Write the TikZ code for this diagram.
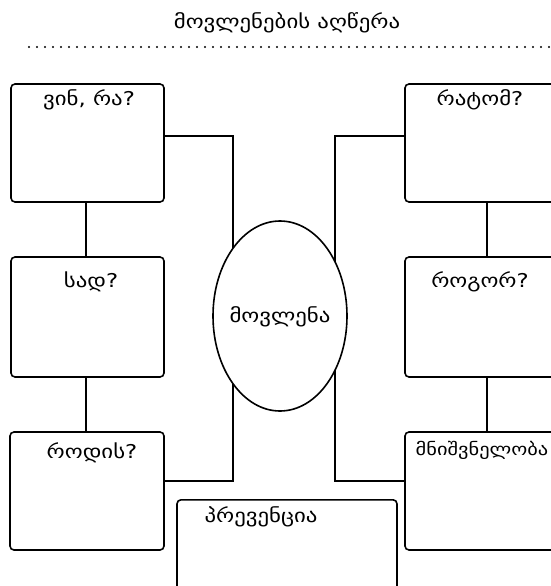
\documentclass[tikz,border=0pt]{standalone}
\usepackage{fontspec}
\setmainfont{DejaVu Sans}
\newfontfamily\geo[FakeStretch=1.2]{DejaVu Sans}
\usetikzlibrary{shapes.geometric}
\begin{document}
\begin{tikzpicture}[x=1pt,y=-1pt,
  lw/.style={line width=1.6pt},
  box/.style={lw,draw=black,fill=white,rounded corners=4pt,inner sep=0pt},
  conn/.style={lw,draw=black},
  lbl/.style={anchor=base,inner sep=0pt,font=\geo\fontsize{19}{22}\selectfont},
]
\useasboundingbox (0,0) rectangle (550,586);
% title
\node[lbl] (title) at (287,29) {მოვლენების აღწერა};
\draw[line width=2.4pt,line cap=round,dash pattern=on 0pt off 8pt] (29,47) -- (552,47);
% coordinates for connectors
\coordinate (lt) at (233,136);
\coordinate (lb) at (233,481);
\coordinate (rt) at (335,136);
\coordinate (rb) at (335,481);
% boxes
\node[box,minimum width=153pt,minimum height=118pt] (b1) at (87.5,143) {};
\node[box,minimum width=153pt,minimum height=120pt] (b2) at (87.5,317) {};
\node[box,minimum width=154pt,minimum height=118pt] (b3) at (87,491) {};
\node[box,minimum width=153pt,minimum height=118pt] (r1) at (481.5,143) {};
\node[box,minimum width=153pt,minimum height=120pt] (r2) at (481.5,317) {};
\node[box,minimum width=153pt,minimum height=118pt] (r3) at (481.5,491) {};
\node[box,minimum width=220pt,minimum height=120pt,anchor=north] (c) at (287,499) {};
% connectors
\draw[conn] (b1.east |- lt) -- (lt) -- (lb) -- (b3.east |- lb);
\draw[conn] (r1.west |- rt) -- (rt) -- (rb) -- (r3.west |- rb);
\draw[conn] (b1.south -| 86,0) -- (b2.north -| 86,0);
\draw[conn] (b2.south -| 86,0) -- (b3.north -| 86,0);
\draw[conn] (r1.south -| 487,0) -- (r2.north -| 487,0);
\draw[conn] (r2.south -| 487,0) -- (r3.north -| 487,0);
% ellipse
\node[ellipse,lw,draw=black,fill=white,minimum width=134pt,minimum height=190pt,inner sep=0pt] (e) at (280,316) {};
\node[lbl] (elbl) at (280,322) {მოვლენა};
% labels
\node[lbl] (t1) at (89,105) {ვინ, რა?};
\node[lbl] (t2) at (91,287) {სად?};
\node[lbl] (t3) at (92,458) {როდის?};
\node[lbl] (t4) at (480,105) {რატომ?};
\node[lbl] (t5) at (480,287) {როგორ?};
\node[lbl,font=\geo\fontsize{17}{20}\selectfont] (t6) at (482,455) {მნიშვნელობა};
\node[lbl] (t7) at (261,522) {პრევენცია};
\end{tikzpicture}
\end{document}
